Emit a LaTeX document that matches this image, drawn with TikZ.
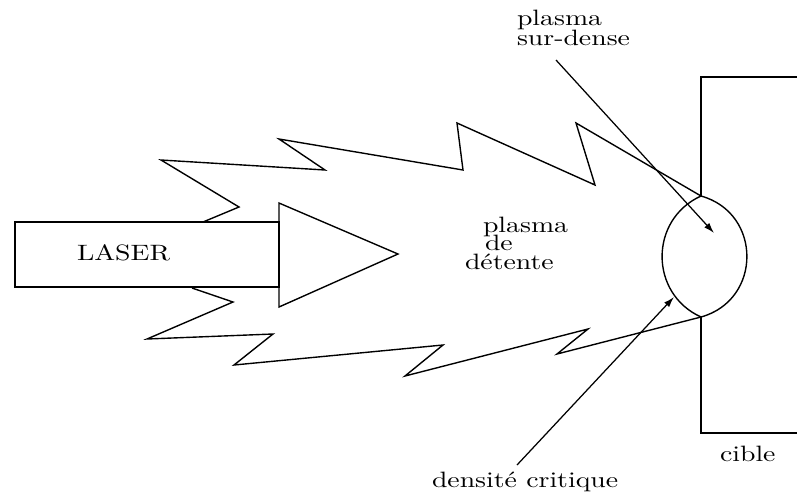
\documentclass[tikz,border=0pt]{standalone}
\usetikzlibrary{arrows.meta}
% labels are set at 10pt width with a flattened height
\newcommand\lbltext[1]{\scalebox{1}[0.8]{#1}}
\begin{document}
\begin{tikzpicture}[x=0.36pt,y=-0.36pt,
  outline/.style={line width=0.5pt, line join=miter},
  lbl/.style={inner sep=0pt, outer sep=0pt, anchor=base west},
  pointer/.style={line width=0.45pt, -{Latex[length=3.8pt,width=2.4pt]}}]
\useasboundingbox (0,0) rectangle (797,493);

% laser body and beam head
\draw[outline] (15,222) rectangle (279,287);
\draw[outline] (279,203) -- (398,254) -- (279,307) -- cycle;
\node[lbl] (laser) at (77,260) {\lbltext{LASER}};

% expanding plasma plume, upper and lower jagged fronts
\draw[outline] (203,222) -- (239,207) -- (161,160) -- (325,170) -- (279,139)
  -- (463,170) -- (457,123) -- (595,185) -- (576,123) -- (701,196);
\draw[outline] (192,288) -- (233,302) -- (147,339) -- (273,334) -- (234,365)
  -- (443,345) -- (405,376) -- (588,329) -- (557,354) -- (701,317);

% target
\draw[outline] (797,77) -- (701,77) -- (701,196);
\draw[outline] (701,317) -- (701,433) -- (797,433);
\node[lbl] (cible) at (720,461) {\lbltext{cible}};

% over-dense region bounded by the critical density surface
\draw[outline] (701,196) .. controls (649.1,219.5) and (649.1,293.5) .. (701,317)
  .. controls (762.2,300) and (762.2,213) .. (701,196) -- cycle;

% labels
\node[lbl] (pl1) at (483,232) {\lbltext{plasma}};
\node[lbl] (pl2) at (485,250) {\lbltext{de}};
\node[lbl] (pl3) at (465,269) {\lbltext{détente}};
\node[lbl] (sd1) at (517,25) {\lbltext{plasma}};
\node[lbl] (sd2) at (517,45) {\lbltext{sur-dense}};
\node[lbl] (dc) at (432,487) {\lbltext{densité critique}};

% pointers
\coordinate (sdtail) at (556,60);
\coordinate (sdtip) at (714,233);
\coordinate (dctail) at (517,465);
\coordinate (dctip) at (674,297);
\draw[pointer] (sdtail) -- (sdtip);
\draw[pointer] (dctail) -- (dctip);
\end{tikzpicture}
\end{document}
